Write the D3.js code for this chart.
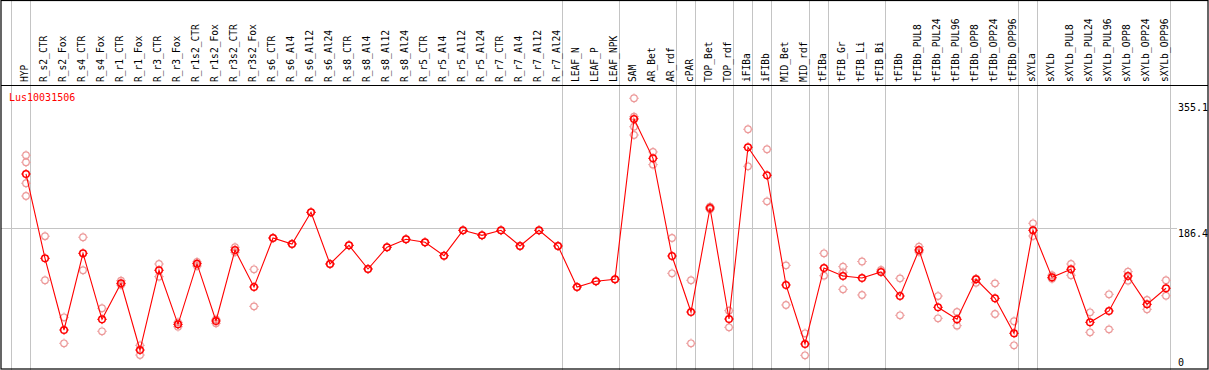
<!DOCTYPE html>
<html>
<head>
<meta charset="utf-8">
<script src="https://cdn.jsdelivr.net/npm/d3@7"></script>
<style>
  html, body { margin: 0; padding: 0; background: #fff; }
  svg { display: block; }
  text { font-family: "DejaVu Sans Mono", "Liberation Mono", monospace; }
</style>
</head>
<body>
<svg id="chart" width="1209" height="370"></svg>
<script>
const categories = ["HYP","R_s2_CTR","R_s2_Fox","R_s4_CTR","R_s4_Fox","R_r1_CTR","R_r1_Fox","R_r3_CTR","R_r3_Fox",
  "R_r1s2_CTR","R_r1s2_Fox","R_r3s2_CTR","R_r3s2_Fox","R_s6_CTR","R_s6_Al4","R_s6_Al12","R_s6_Al24",
  "R_s8_CTR","R_s8_Al4","R_s8_Al12","R_s8_Al24","R_r5_CTR","R_r5_Al4","R_r5_Al12","R_r5_Al24",
  "R_r7_CTR","R_r7_Al4","R_r7_Al12","R_r7_Al24","LEAF_N","LEAF_P","LEAF_NPK","SAM","AR_Bet","AR_rdf",
  "cPAR","TOP_Bet","TOP_rdf","iFIBa","iFIBb","MID_Bet","MID_rdf","tFIBa","tFIB_Gr","tFIB_Li","tFIB_Bi",
  "tFIBb","tFIBb_PUL8","tFIBb_PUL24","tFIBb_PUL96","tFIBb_OPP8","tFIBb_OPP24","tFIBb_OPP96",
  "sXYLa","sXYLb","sXYLb_PUL8","sXYLb_PUL24","sXYLb_PUL96","sXYLb_OPP8","sXYLb_OPP24","sXYLb_OPP96"];

const means = [258.3,145.4,49.4,152.1,63.7,111.9,22.6,129.4,57.0,
  138.2,61.5,156.5,107.0,172.6,164.6,207.0,137.8,
  162.8,131.1,160.2,170.9,166.8,148.9,182.9,176.2,
  182.9,161.9,182.9,161.9,107.0,114.6,117.3,332.0,279.3,148.5,
  73.5,212.8,64.1,294.1,256.6,109.7,30.7,132.5,121.7,119.0,127.1,
  94.9,156.5,79.8,63.7,117.3,91.8,45.0,
  182.9,119.9,130.7,59.7,74.9,121.7,83.8,105.3];

const replicates = [
  [283.4,274.0,245.9,228.8],[175.0,116.0],[66.4,31.6],[173.6,129.4],[78.5,47.7],[115.4,109.7],[28.9,15.9],[137.8,120.8],[59.7,53.8],
  [140.5,135.1],[63.7,58.4],[160.2,153.5],[130.7,81.1],[172.6],[164.6],[207.0],[137.8],
  [162.8],[131.1],[160.2],[170.9],[166.8],[148.9],[182.9],[176.2],
  [182.9],[161.9],[182.9],[161.9],[107.0],[114.6],[117.3],[359.7,335.0,321.6,310.5],[287.8,270.8],[172.6,125.3],
  [116.0,31.6],[214.5,211.0],[75.3,53.0],[318.2,268.6],[291.4,221.7],[136.0,82.9],[45.0,15.5],[152.1,122.1],[134.2,126.7,103.9],[141.1,96.3],[129.8],
  [118.6,69.1],[161.0,153.9],[94.9,65.1],[73.5,55.2],[118.1,112.7],[111.9,70.8],[61.1,28.9],
  [192.3,175.3],[122.7,118.1],[137.8,122.7],[73.1,46.3],[97.2,50.3],[127.5,115.4],[89.6,77.1],[116.0,95.3]];

const groupStarts = ["HYP","R_s2_CTR","LEAF_N","SAM","cPAR","TOP_Bet","iFIBa","iFIBb","MID_Bet",
  "tFIBa","tFIB_Gr","tFIBb","sXYLa","sXYLb"];
const yTicks = [355.1, 186.4, 0];
const gridTicks = [186.4];
const geneName = "Lus10031506";

const W = 1209, H = 370;
const svg = d3.select("#chart");

const x = d3.scaleBand().domain(categories).range([11, 11 + 19 * categories.length]).paddingInner(0).paddingOuter(0);
const px = c => x(c) + 15;
const y = d3.scaleLinear().domain([0, 355.1]).range([366.9, 101.7]);

// separators
const sepX = groupStarts.map(c => x(c)).concat([x.range()[1]]);
svg.append("g").selectAll("line").data(sepX).join("line")
  .attr("x1", d => d + 0.5).attr("x2", d => d + 0.5)
  .attr("y1", 0).attr("y2", H)
  .attr("stroke", "#c4c4c4").attr("stroke-width", 1);

// gridline
svg.append("g").selectAll("line").data(gridTicks).join("line")
  .attr("x1", 1).attr("x2", 1177)
  .attr("y1", d => Math.round(y(d)) + 0.5).attr("y2", d => Math.round(y(d)) + 0.5)
  .attr("stroke", "#c4c4c4").attr("stroke-width", 1);

// frame
svg.append("rect").attr("x", 1).attr("y", 0.5).attr("width", 1207).attr("height", 368.5)
  .attr("fill", "none").attr("stroke", "#000").attr("stroke-width", 1.2);
svg.append("line").attr("x1", 1).attr("x2", 1208).attr("y1", 85.5).attr("y2", 85.5)
  .attr("stroke", "#000").attr("stroke-width", 1.2);

// x labels
svg.append("g").selectAll("text").data(categories).join("text")
  .attr("transform", d => `translate(${px(d) + 1.5},82) rotate(-90)`)
  .attr("font-size", "9.6px").attr("fill", "#000")
  .text(d => d);

// y axis labels
const yAxis = d3.axisRight(y).tickValues(yTicks).tickSize(0).tickPadding(0)
  .tickFormat(d => d === 0 ? "0" : d3.format(".1f")(d));
const ag = svg.append("g").attr("transform", "translate(1178,0)").call(yAxis);
ag.select(".domain").remove();
ag.selectAll(".tick").attr("transform", d => `translate(0,${Math.min(y(d) + 1.6, 358.6)})`);
ag.selectAll(".tick text").attr("x", 0).attr("dy", "0.78em")
  .attr("font-size", "10px").attr("font-family", "'DejaVu Sans Mono', monospace").attr("fill", "#000");

// gene label
svg.append("text").attr("x", 9).attr("y", 101).attr("font-size", "10px").attr("fill", "#ff0000").text(geneName);

// replicate circles
const repPts = [];
categories.forEach((c, i) => replicates[i].forEach(v => repPts.push({c, v})));
const tick = (g, col, sw) => {
  g.append("circle").attr("r", 3.3).attr("fill", "none").attr("stroke", col).attr("stroke-width", sw);
  g.append("path").attr("d", "M0,-4.8V-3.6M0,3.6V4.8M-4.8,0H-3.6M3.6,0H4.8")
    .attr("stroke", col).attr("stroke-width", 1);
};
svg.append("g").selectAll("g").data(repPts).join("g")
  .attr("transform", d => `translate(${px(d.c)},${y(d.v)})`)
  .each(function() { tick(d3.select(this), "#ec9a9a", 1.2); });

// mean line
const line = d3.line().x((d, i) => px(categories[i])).y(d => y(d));
svg.append("path").datum(means).attr("d", line)
  .attr("fill", "none").attr("stroke", "#ff0000").attr("stroke-width", 1.1);

// mean circles
svg.append("g").selectAll("g").data(means).join("g")
  .attr("transform", (d, i) => `translate(${px(categories[i])},${y(d)})`)
  .each(function() { tick(d3.select(this), "#ff0000", 1.5); });
</script>
</body>
</html>
